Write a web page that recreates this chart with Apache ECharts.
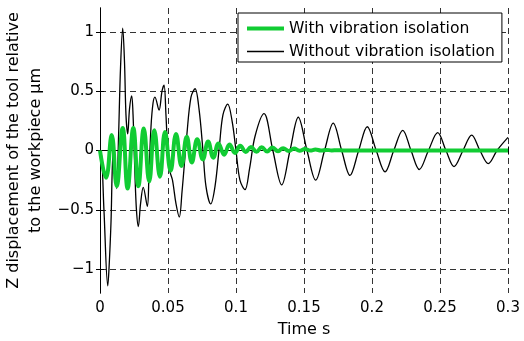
<!DOCTYPE html>
<html>
<head>
<meta charset="utf-8">
<script src="https://cdn.jsdelivr.net/npm/echarts@6/dist/echarts.min.js"></script>
<style>
html,body{margin:0;padding:0;background:#fff;}
#c{width:524px;height:341px;}
</style>
</head>
<body>
<div id="c"></div>
<script>
// Data (time in s, displacement in µm)
var seriesNames = ['With vibration isolation', 'Without vibration isolation'];
var xTicks = [0, 0.05, 0.1, 0.15, 0.2, 0.25, 0.3];
var yTicks = [-1, -0.5, 0, 0.5, 1];

var withoutT = [0, 0.0007, 0.0029, 0.0057, 0.0066, 0.0081, 0.0092, 0.0103, 0.0123, 0.0136, 0.0151, 0.0167, 0.0180, 0.0191, 0.0204, 0.0217, 0.0233, 0.0243, 0.0257, 0.0268, 0.0282, 0.0298, 0.0318, 0.0348, 0.0360, 0.0375, 0.0390, 0.0404, 0.0434, 0.0456, 0.0471, 0.0485, 0.0500, 0.0515, 0.0533, 0.0559, 0.0583, 0.0603, 0.0640, 0.0669, 0.0699, 0.0728, 0.0757, 0.0779, 0.0814, 0.0846, 0.0879, 0.0904, 0.0939, 0.0971, 0.1000, 0.1029, 0.1066, 0.1100, 0.1140, 0.1206, 0.1271, 0.1336, 0.1397, 0.1458, 0.1522, 0.1586, 0.1651, 0.1715, 0.1777, 0.1838, 0.1902, 0.1965, 0.2031, 0.2096, 0.2160, 0.2226, 0.2287, 0.2348, 0.2415, 0.2483, 0.2544, 0.2603, 0.2669, 0.2733, 0.2794, 0.2855, 0.2919, 0.3000];
var withoutV = [0, 0.0, -0.5, -1.14, -1.0, -0.6, -0.1, 0.0, -0.32, 0.1, 0.7, 1.03, 0.75, 0.3, 0.14, 0.35, 0.46, 0.3, -0.2, -0.5, -0.64, -0.45, -0.31, -0.47, -0.2, 0.2, 0.4, 0.45, 0.34, 0.5, 0.55, 0.3, -0.05, -0.18, -0.25, -0.45, -0.56, -0.35, 0.15, 0.45, 0.52, 0.35, 0.0, -0.3, -0.45, -0.3, 0.05, 0.3, 0.39, 0.25, 0.0, -0.25, -0.33, -0.15, 0.12, 0.31, 0.0, -0.29, 0.0, 0.28, 0.0, -0.25, 0.0, 0.23, 0.0, -0.21, 0.0, 0.2, 0.0, -0.18, 0.0, 0.17, 0.0, -0.16, 0.0, 0.15, 0.0, -0.135, 0.0, 0.13, 0.0, -0.11, 0.0, 0.11];

var withT = [0, 0.0044, 0.0086, 0.0123, 0.0167, 0.0203, 0.0245, 0.0282, 0.0322, 0.0362, 0.0399, 0.0441, 0.0478, 0.0519, 0.0559, 0.0599, 0.0638, 0.0675, 0.0715, 0.0756, 0.0795, 0.0833, 0.0871, 0.0913, 0.0952, 0.0993, 0.1031, 0.1072, 0.1110, 0.1151, 0.1189, 0.1229, 0.1268, 0.1309, 0.1346, 0.1388, 0.1427, 0.1467, 0.1507, 0.1546, 0.1584, 0.1625, 0.1663, 0.1704, 0.1743, 0.1801, 0.3000];
var withV = [0, -0.23, 0.13, -0.30, 0.19, -0.32, 0.19, -0.30, 0.185, -0.26, 0.17, -0.22, 0.155, -0.17, 0.14, -0.13, 0.115, -0.10, 0.095, -0.075, 0.075, -0.06, 0.06, -0.035, 0.05, -0.02, 0.04, -0.012, 0.03, -0.01, 0.028, -0.008, 0.025, -0.006, 0.02, -0.004, 0.016, -0.002, 0.012, 0.0, 0.008, 0.0, 0.005, 0.001, 0.003, 0.0, 0.0];

function pairs(t, v) { return t.map(function (x, i) { return [x, v[i]]; }); }
function fmtY(v) { return v < 0 ? '\u2212' + Math.abs(v) : String(v); }

var FONT = 'DejaVu Sans';
var GREEN = '#11cc33';
var chart = echarts.init(document.getElementById('c'), null, {renderer: 'canvas'});
chart.setOption({
  animation: false,
  backgroundColor: '#fff',
  textStyle: {fontFamily: FONT},
  grid: {left: 100, right: 16, top: 8, bottom: 48, containLabel: false, outerBoundsMode: 'none'},
  legend: {
    orient: 'vertical', left: 238, top: 13,
    padding: [7, 7, 2, 7],
    itemWidth: 37, itemHeight: 2, itemGap: 6,
    borderColor: '#000', borderWidth: 1, backgroundColor: '#fff',
    itemStyle: {opacity: 0},
    textStyle: {fontSize: 15.6, fontFamily: FONT, color: '#000', lineHeight: 17},
    data: [
      {name: seriesNames[0], lineStyle: {width: 4, color: GREEN}},
      {name: seriesNames[1], lineStyle: {width: 1.3, color: '#000'}}
    ]
  },
  xAxis: [{
    type: 'value', min: 0, max: 0.3, interval: 0.05, position: 'bottom',
    name: 'Time s', nameLocation: 'middle', nameGap: 29,
    nameTextStyle: {fontSize: 16, color: '#000', fontFamily: FONT},
    axisLine: {show: true, lineStyle: {color: '#000', width: 1}},
    axisTick: {show: true, inside: true, length: 4, lineStyle: {color: '#000'}},
    axisLabel: {fontSize: 15, color: '#000', margin: 8, fontFamily: FONT,
      customValues: xTicks},
    splitLine: {show: true, lineStyle: {type: [6, 4], color: '#333', width: 1}}
  }, {
    type: 'value', min: 0, max: 0.3, interval: 0.05, position: 'top',
    axisLine: {show: true, lineStyle: {color: '#000', width: 1}},
    axisTick: {show: true, inside: true, length: 4, lineStyle: {color: '#000'}},
    axisLabel: {show: false}, splitLine: {show: false}
  }],
  yAxis: [{
    type: 'value', min: -1.2, max: 1.2, position: 'left',
    name: 'Z displacement of the tool relative\nto the workpiece \u03bcm',
    nameLocation: 'middle', nameGap: 37, nameRotate: 90,
    nameTextStyle: {fontSize: 16, color: '#000', fontFamily: FONT, lineHeight: 22},
    axisLine: {show: true, lineStyle: {color: '#000', width: 1}},
    axisTick: {show: true, inside: true, length: 4, lineStyle: {color: '#000'}, customValues: yTicks},
    axisLabel: {fontSize: 15, color: '#000', margin: 6, fontFamily: FONT, customValues: yTicks, formatter: fmtY},
    splitLine: {show: true, lineStyle: {type: [6, 4], color: '#333', width: 1}}
  }, {
    type: 'value', min: -1.2, max: 1.2, position: 'right',
    axisLine: {show: true, lineStyle: {color: '#000', width: 1}},
    axisTick: {show: true, inside: true, length: 4, lineStyle: {color: '#000'}, customValues: yTicks},
    axisLabel: {show: false}, splitLine: {show: false}
  }],
  series: [{
    name: seriesNames[1], type: 'line', xAxisIndex: 0, yAxisIndex: 0,
    data: pairs(withoutT, withoutV), symbol: 'none', smooth: 0.35, z: 3,
    lineStyle: {color: '#000', width: 1.3}, itemStyle: {color: '#000'}
  }, {
    name: seriesNames[0], type: 'line', xAxisIndex: 0, yAxisIndex: 0,
    data: pairs(withT, withV), symbol: 'none', smooth: 0.45, z: 4,
    lineStyle: {color: GREEN, width: 4}, itemStyle: {color: GREEN}
  }]
});
</script>
</body>
</html>
